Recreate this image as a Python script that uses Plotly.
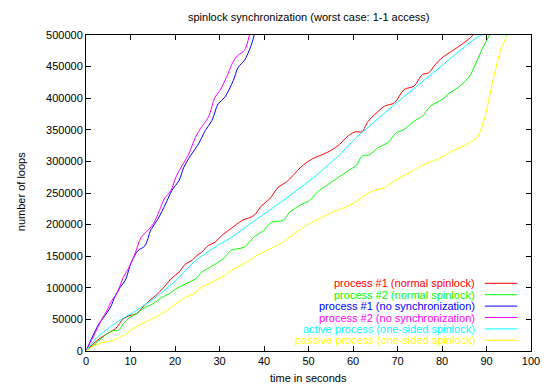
import plotly.graph_objects as go

title = "spinlock synchronization (worst case: 1-1 access)"
x_label = "time in seconds"
y_label = "number of loops"

names = [
    "process #1 (normal spinlock)",
    "process #2 (normal spinlock)",
    "process #1 (no synchronization)",
    "process #2 (no synchronization)",
    "active process (one-sided spinlock)",
    "passive process (one-sided spinlock)",
]
colors = ["#ff0000", "#00ff00", "#0000ff", "#ff00ff", "#00ffff", "#ffff00"]

red_x = [0, 2.5, 4.7, 6.6, 8.4, 9.9, 11.3, 12.8, 14.3, 15.7, 17.2, 19.1, 20.9, 22.4, 23.8, 24.9, 26.0, 27.5, 29.0,
         30.5, 32.5, 35.1, 37.7, 39.5, 41.3, 43.2, 45.0, 46.5, 48.7, 50.9, 53.5, 55.0, 57.0, 58.5, 60.5, 62.0, 63.4,
         64.9, 67.1, 69.3, 71.5, 73.7, 75.6, 77.0, 78.5, 80.0, 82.2, 84.4, 85.9, 87.0]
red_y = [0, 16600, 27200, 35100, 51000, 56200, 58800, 69300, 80000, 87800, 98400, 114200, 124700, 138000, 143200,
         151100, 156300, 167000, 172100, 182700, 193300, 206500, 214400, 230200, 240800, 259200, 267100, 277700,
         293500, 304100, 312000, 317200, 327000, 338000, 346800, 346800, 363600, 374200, 387400, 392700, 413800,
         419000, 437500, 440200, 453300, 463900, 474400, 485000, 492900, 500000]

green_x = [0, 2.5, 4.7, 6.2, 7.3, 8.4, 9.9, 11.3, 12.8, 15.0, 17.2, 18.7, 20.2, 22.4, 24.6, 26.0, 27.9, 29.7, 31.2,
           32.5, 35.5, 37.7, 39.9, 41.7, 44.3, 45.8, 48.0, 50.2, 52.0, 54.6, 56.8, 59.0, 60.8, 62.0, 63.8, 65.6,
           67.8, 69.7, 71.5, 73.7, 75.6, 77.4, 80.0, 81.8, 84.0, 86.2, 87.3, 88.8, 90.7]
green_y = [0, 14000, 27200, 32400, 32400, 43000, 53500, 58800, 66800, 74700, 85100, 90500, 98400, 106300, 114200,
           124700, 132600, 140500, 148400, 159000, 164300, 180100, 190700, 203800, 206500, 219600, 230200, 238100,
           251300, 264600, 275000, 285600, 294000, 308200, 310900, 321500, 329400, 345200, 350500, 363600, 371500,
           387400, 398000, 408500, 419000, 434800, 450600, 474400, 500000]

blue_x = [0, 1.4, 2.9, 4.0, 5.5, 6.6, 7.7, 8.8, 10.2, 11.7, 13.2, 14.6, 16.1, 17.9, 19.3, 20.9, 22.0, 23.5, 25.3,
          26.8, 28.3, 29.7, 31.2, 33.1, 34.2, 35.6, 37.1, 37.8]
blue_y = [0, 21800, 43000, 53500, 69300, 87800, 101000, 111500, 140500, 159000, 166000, 192000, 208000, 233000,
          254000, 269800, 290800, 309300, 327800, 348900, 364700, 391100, 401600, 428000, 449000, 459700, 483400,
          500000]

magenta_x = [0, 1.0, 2.5, 3.6, 4.7, 5.8, 6.9, 8.4, 9.5, 11.0, 12.4, 13.9, 15.2, 16.5, 17.6, 19.1, 20.2, 21.6, 23.1,
             24.6, 25.7, 27.5, 29.0, 30.1, 31.9, 33.0, 34.1, 35.6, 36.7]
magenta_y = [0, 14000, 35000, 51000, 64000, 80000, 90500, 116800, 130000, 153800, 180000, 190700, 202000, 222300,
             240800, 254000, 275000, 293500, 312000, 338300, 351600, 370000, 401600, 412000, 438600, 457000, 467600,
             475500, 500000]

cyan_x = [0, 2.5, 6.9, 11.3, 15.7, 20.2, 24.6, 29.0, 32.7, 36.9, 44.3, 51.7, 57.2, 60.5, 69.3, 78.5, 88.8, 94.7]
cyan_y = [0, 21800, 45600, 64100, 85100, 111500, 143200, 164300, 180000, 201300, 238100, 277700, 312000, 336000,
          390000, 442700, 500000, 500000]

yellow_x = [0, 1.8, 4.0, 6.2, 8.4, 10.6, 12.4, 15.0, 17.6, 20.2, 22.4, 24.2, 26.0, 28.3, 30.5, 32.6, 35.5, 38.4,
            41.3, 44.3, 47.2, 50.2, 53.1, 55.3, 58.3, 60.8, 63.4, 65.5, 67.1, 69.3, 72.6, 75.9, 78.9, 82.2, 85.5,
            88.1, 89.6, 91.4, 93.2, 94.7]
yellow_y = [0, 8700, 14000, 16600, 24500, 35100, 43000, 51000, 61400, 74700, 85100, 90500, 101000, 108900, 116800,
            127400, 138000, 151100, 161700, 172200, 188000, 201300, 211700, 219600, 227500, 236500, 250000, 255500,
            258200, 268700, 282000, 295100, 303000, 316100, 326700, 339900, 369000, 427000, 477000, 500000]

series_x = [red_x, green_x, blue_x, magenta_x, cyan_x, yellow_x]
series_y = [red_y, green_y, blue_y, magenta_y, cyan_y, yellow_y]
smooth = [0.9, 0.8, 0.9, 0.9, 0.5, 0.5]

x_ticks = list(range(0, 101, 10))
y_ticks = list(range(0, 500001, 50000))

W, H = 552, 385
ML, MR, MT, MB = 86, 13, 35, 34
PW, PH = W - ML - MR, H - MT - MB
FONT = "Liberation Sans, Arial, Helvetica, sans-serif"

fig = go.Figure()
for nm, c, xs, ys, sm in zip(names, colors, series_x, series_y, smooth):
    fig.add_trace(go.Scatter(x=xs, y=ys, mode="lines", name=nm,
                             line=dict(color=c, width=1, shape="spline", smoothing=sm),
                             showlegend=False, cliponaxis=True))

def px_to_paper_x(px):
    return (px - ML) / PW

def py_to_paper_y(py):
    return (H - MB - py) / PH

annotations = []
shapes = []
row0 = 283.3
step = 11.4
for i, (nm, c) in enumerate(zip(names, colors)):
    yy = py_to_paper_y(row0 + i * step)
    annotations.append(dict(x=px_to_paper_x(484), y=yy, xref="paper", yref="paper", text=nm,
                            showarrow=False, xanchor="right", yanchor="middle",
                            font=dict(color=c, size=11, family=FONT)))
    shapes.append(dict(type="line", xref="paper", yref="paper",
                       x0=px_to_paper_x(492), x1=px_to_paper_x(525), y0=yy, y1=yy,
                       line=dict(color=c, width=1)))

annotations.append(dict(x=0.5, y=py_to_paper_y(17), xref="paper", yref="paper", text=title,
                        showarrow=False, xanchor="center", yanchor="middle",
                        font=dict(color="black", size=11, family=FONT)))
annotations.append(dict(x=0.5, y=py_to_paper_y(378), xref="paper", yref="paper", text=x_label,
                        showarrow=False, xanchor="center", yanchor="middle",
                        font=dict(color="black", size=11, family=FONT)))
annotations.append(dict(x=px_to_paper_x(20), y=py_to_paper_y(192), xref="paper", yref="paper", text=y_label,
                        showarrow=False, xanchor="center", yanchor="middle", textangle=-90,
                        font=dict(color="black", size=11, family=FONT)))

fig.update_layout(
    width=W, height=H,
    margin=dict(l=ML, r=MR, t=MT, b=MB, pad=0),
    paper_bgcolor="white", plot_bgcolor="white",
    font=dict(family=FONT, size=11, color="black"),
    annotations=annotations, shapes=shapes,
    showlegend=False,
)
fig.update_xaxes(range=[0, 100], tickvals=x_ticks, ticktext=[str(v) for v in x_ticks],
                 showgrid=False, zeroline=False, showline=True, linecolor="black", linewidth=1,
                 mirror="ticks", ticks="inside", ticklen=5, tickcolor="black", tickwidth=1,
                 tickfont=dict(size=11, family=FONT, color="black"))
fig.update_yaxes(range=[0, 500000], tickvals=y_ticks, ticktext=[str(v) for v in y_ticks],
                 showgrid=False, zeroline=False, showline=True, linecolor="black", linewidth=1,
                 mirror="ticks", ticks="inside", ticklen=5, tickcolor="black", tickwidth=1,
                 tickfont=dict(size=11, family=FONT, color="black"))

fig.write_html("out.html")
